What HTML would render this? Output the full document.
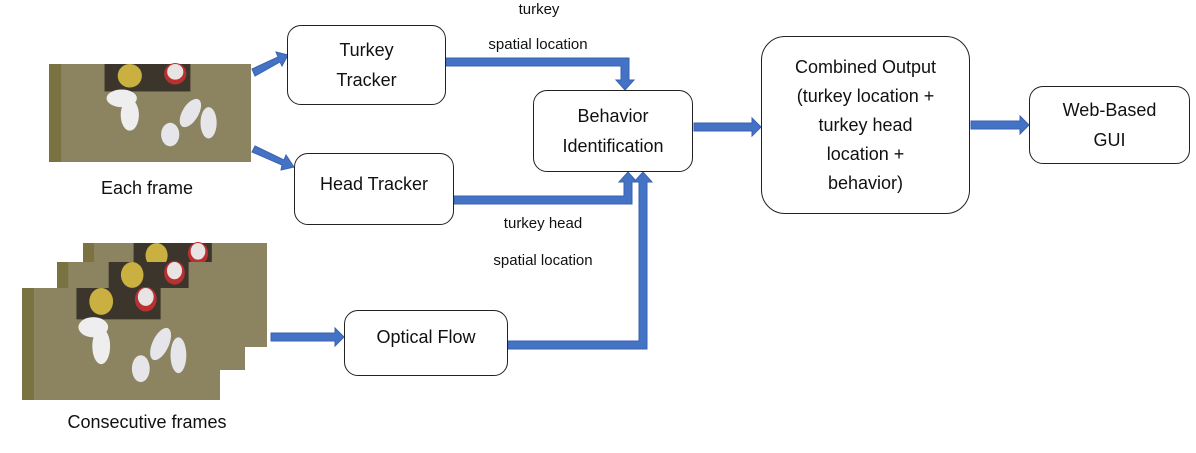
<!DOCTYPE html>
<html><head><style>
body{margin:0;width:1196px;height:453px;background:#fff;position:relative;overflow:hidden;font-family:"Liberation Sans",sans-serif;}
.box{position:absolute;border:1.5px solid #222;border-radius:14px;background:#fff;display:flex;align-items:center;justify-content:center;text-align:center;font-size:18px;line-height:30px;color:#111;box-sizing:border-box;}
.lbl{position:absolute;font-size:15px;color:#111;text-align:center;transform:translateX(-50%);white-space:nowrap;}
</style></head><body>
<svg width="1196" height="453" style="position:absolute;left:0;top:0">
<defs>
<g id="frame">
<rect width="200" height="100" fill="#8c8460"/>
<rect width="12" height="100" fill="#7a7240"/>
<rect x="55" y="0" width="85" height="28" fill="#3b352c"/>
<circle cx="80" cy="12" r="12" fill="#c9b040"/>
<circle cx="125" cy="10" r="11" fill="#b83030"/>
<circle cx="125" cy="8" r="8" fill="#e8e4e4"/>
<ellipse cx="72" cy="35" rx="15" ry="9" fill="#eee"/>
<ellipse cx="80" cy="52" rx="9" ry="16" fill="#eee"/>
<ellipse cx="140" cy="50" rx="8" ry="16" fill="#e6e6ea" transform="rotate(30 140 50)"/>
<ellipse cx="120" cy="72" rx="9" ry="12" fill="#e6e6ea"/>
<ellipse cx="158" cy="60" rx="8" ry="16" fill="#e6e6ea"/>
</g>
</defs>
<g transform="translate(49,64) scale(1.01,0.98)"><use href="#frame"/></g>
<g transform="translate(83,243) scale(0.92,1.04)"><use href="#frame"/></g>
<g transform="translate(57,262) scale(0.94,1.08)"><use href="#frame"/></g>
<g transform="translate(22,288) scale(0.99,1.12)"><use href="#frame"/></g>
<g fill="#4472c4" stroke="#3a62b0" stroke-width="1">
<polygon points="252,69 278,57 276,52 288,55 282,66 280,62 255,76"/>
<polygon points="255,146 284,160 286,155 294,167 281,170 282,165 252,152"/>
<polygon points="271,333 335,333 335,328 344,337 335,346 335,341 271,341"/>
<polygon points="446,58 629,58 629,80 634,80 625,90 616,80 621,80 621,66 446,66"/>
<polygon points="454,196 624,196 624,182 619,182 628,172 637,182 632,182 632,204 454,204"/>
<polygon points="508,341 639,341 639,182 634,182 643,172 652,182 647,182 647,349 508,349"/>
<polygon points="694,123 752,123 752,118 761,127 752,136 752,131 694,131"/>
<polygon points="971,121 1020,121 1020,116 1029,125 1020,134 1020,129 971,129"/>
</g>
</svg>
<div class="box" style="left:287px;top:25px;width:159px;height:80px">Turkey<br>Tracker</div>
<div class="box" style="left:294px;top:153px;width:160px;height:72px;padding-bottom:10px">Head Tracker</div>
<div class="box" style="left:533px;top:90px;width:160px;height:82px">Behavior<br>Identification</div>
<div class="box" style="left:761px;top:36px;width:209px;height:178px;border-radius:24px;line-height:29px">Combined Output<br>(turkey location +<br>turkey head<br>location +<br>behavior)</div>
<div class="box" style="left:1029px;top:86px;width:161px;height:78px">Web-Based<br>GUI</div>
<div class="box" style="left:344px;top:310px;width:164px;height:66px;padding-bottom:12px">Optical Flow</div>
<div class="lbl" style="left:539px;top:1px">turkey</div>
<div class="lbl" style="left:538px;top:36px">spatial location</div>
<div class="lbl" style="left:543px;top:215px">turkey head</div>
<div class="lbl" style="left:543px;top:252px">spatial location</div>
<div class="lbl" style="left:147px;top:178px;font-size:18px">Each frame</div>
<div class="lbl" style="left:147px;top:412px;font-size:18px">Consecutive frames</div>
</body></html>
